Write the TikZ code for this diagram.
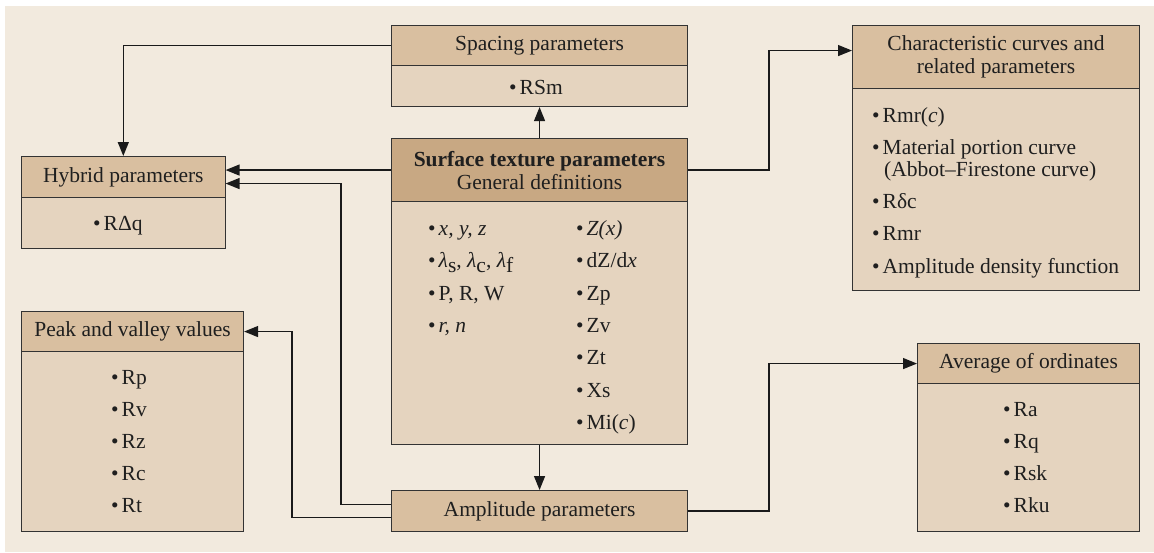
\documentclass[tikz,border=0pt]{standalone}
\usepackage{fontspec}
\setmainfont{Liberation Serif}
\usetikzlibrary{arrows.meta}
\definecolor{bgc}{HTML}{F2EADE}
\definecolor{hdrc}{HTML}{D9BFA0}
\definecolor{bodyc}{HTML}{E5D4BF}
\definecolor{surfc}{HTML}{C8A883}
\definecolor{boxline}{HTML}{333333}
\definecolor{linec}{HTML}{1A1A1A}
\newcommand{\bul}{•\hspace{3pt}}
\begin{document}
\begin{tikzpicture}[x=1pt,y=-1pt, font=\fontsize{21.5}{23}\selectfont,
  box/.style={draw=boxline, line width=1.1pt, inner sep=0pt, anchor=north west},
  hdr/.style={box, fill=hdrc, align=center, text=black!88},
  bodyb/.style={box, fill=bodyc},
  item/.style={anchor=base west, inner sep=0pt, text=black!88},
  conn/.style={line width=1.3pt, draw=linec},
  arr/.style={conn, -{Triangle[length=14pt,width=11pt]}}]
\useasboundingbox (0,0) rectangle (1154,552);
\fill[bgc] (5,6) rectangle (1154,552);

% Spacing parameters
\node[hdr, minimum width=296pt, minimum height=40pt] (sph) at (391,25) {Spacing parameters};
\node[bodyb, minimum width=296pt, minimum height=41pt] (spb) at (391,65) {};
\node[item] (sp1) at (509,94.5) {\bul RSm};

% Surface texture parameters
\node[hdr, fill=surfc, minimum width=296pt, minimum height=63pt] (sfh) at (391,138) {\textbf{Surface texture parameters}\\General definitions};
\node[bodyb, minimum width=296pt, minimum height=243pt] (sfb) at (391,201) {};
\node[item] (sl1) at (428,235.5) {\bul\textit{x, y, z}};
\node[item] (sl2) at (428,267.8) {\bul\textit{λ}\raisebox{-0.22em}{s}, \textit{λ}\raisebox{-0.22em}{c}, \textit{λ}\raisebox{-0.22em}{f}};
\node[item] (sl3) at (428,300.2) {\bul P, R, W};
\node[item] (sl4) at (428,332.5) {\bul\textit{r, n}};
\node[item] (sr1) at (576,235.5) {\bul\textit{Z(x)}};
\node[item] (sr2) at (576,267.8) {\bul dZ/d\textit{x}};
\node[item] (sr3) at (576,300.2) {\bul Zp};
\node[item] (sr4) at (576,332.5) {\bul Zv};
\node[item] (sr5) at (576,364.8) {\bul Zt};
\node[item] (sr6) at (576,397.2) {\bul Xs};
\node[item] (sr7) at (576,429.5) {\bul Mi(\textit{c})};

% Hybrid parameters
\node[hdr, minimum width=203.5pt, minimum height=41pt] (hyh) at (21,156) {Hybrid parameters};
\node[bodyb, minimum width=203.5pt, minimum height=51pt] (hyb) at (21,197) {};
\node[item] (hy1) at (93,230) {\bul RΔq};

% Peak and valley values
\node[hdr, minimum width=222pt, minimum height=40pt] (pvh) at (21,311) {Peak and valley values};
\node[bodyb, minimum width=222pt, minimum height=180pt] (pvb) at (21,351) {};
\node[item] (pv1) at (111,384.5) {\bul Rp};
\node[item] (pv2) at (111,416.5) {\bul Rv};
\node[item] (pv3) at (111,448.5) {\bul Rz};
\node[item] (pv4) at (111,480.5) {\bul Rc};
\node[item] (pv5) at (111,512.5) {\bul Rt};

% Amplitude parameters
\node[hdr, minimum width=296pt, minimum height=41pt] (amp) at (391,490) {Amplitude parameters};

% Characteristic curves
\node[hdr, minimum width=287pt, minimum height=63pt] (chh) at (852,25) {Characteristic curves and\\related parameters};
\node[bodyb, minimum width=287pt, minimum height=202pt] (chb) at (852,88) {};
\node[item] (ch1) at (872,122.5) {\bul Rmr(\textit{c})};
\node[item] (ch2) at (872,154.5) {\bul Material portion curve};
\node[item] (ch2b) at (884,176.5) {(Abbot–Firestone curve)};
\node[item] (ch3) at (872,208.5) {\bul Rδc};
\node[item] (ch4) at (872,240.5) {\bul Rmr};
\node[item] (ch5) at (872,273.5) {\bul Amplitude density function};

% Average of ordinates
\node[hdr, minimum width=222pt, minimum height=40pt] (avh) at (917,343) {Average of ordinates};
\node[bodyb, minimum width=222pt, minimum height=148pt] (avb) at (917,383) {};
\node[item] (av1) at (1003,416.5) {\bul Ra};
\node[item] (av2) at (1003,448.5) {\bul Rq};
\node[item] (av3) at (1003,480.5) {\bul Rsk};
\node[item] (av4) at (1003,512.5) {\bul Rku};

% helper coordinates
\coordinate (xh) at (341,0);
\coordinate (xp) at (292,0);
\coordinate (xr) at (769,0);
\coordinate (a1) at ([yshift=6.5pt]amp.west);
\coordinate (a2) at ([yshift=-6.5pt]amp.west);
\coordinate (h1) at ([yshift=-6.5pt]hyh.east);
\coordinate (c1) at ([yshift=6.5pt]chh.west);

% connectors
\draw[arr] (sfh.north) -- (spb.south);
\draw[arr] (sfb.south) -- (amp.north);
\draw[arr] (sph.west) -| (hyh.north);
\draw[arr] (sfh.west) -- (sfh.west -| hyh.east);
\draw[arr] (a1) -- (a1 -| xh) |- (h1);
\draw[arr] (a2) -- (a2 -| xp) |- (pvh.east);
\draw[arr] (sfh.east) -- (sfh.east -| xr) |- (c1);
\draw[arr] (amp.east) -- (amp.east -| xr) |- (avh.west);
\end{tikzpicture}
\end{document}
